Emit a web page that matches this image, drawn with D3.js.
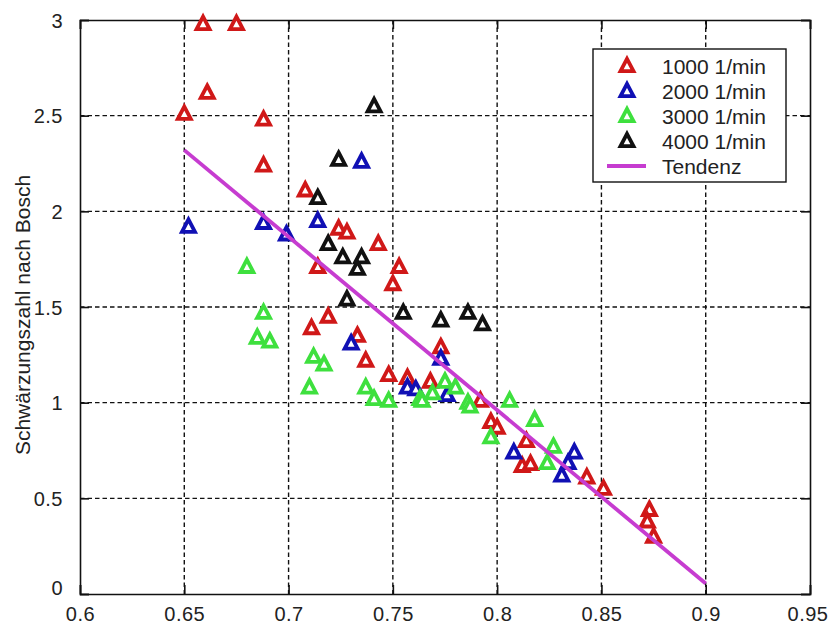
<!DOCTYPE html>
<html>
<head>
<meta charset="utf-8">
<script src="https://cdn.jsdelivr.net/npm/d3@7"></script>
<style>
  body { margin: 0; background: #fff; }
  text { font-family: "Liberation Sans", Arial, sans-serif; fill: #222; }
</style>
</head>
<body>
<div id="chart"></div>
<script>
const width = 829;
const height = 631;
const margin = { top: 20, right: 19, bottom: 37, left: 80 };

// Measured points per speed (x, Schwärzungszahl)
const rpm1000 = [
  [0.650, 2.51], [0.659, 2.98], [0.675, 2.98], [0.661, 2.62], [0.688, 2.48],
  [0.688, 2.24], [0.708, 2.11], [0.724, 1.91], [0.728, 1.89], [0.743, 1.83],
  [0.714, 1.71], [0.753, 1.71], [0.750, 1.62], [0.719, 1.45], [0.711, 1.39],
  [0.733, 1.35], [0.737, 1.22], [0.748, 1.145], [0.757, 1.13], [0.773, 1.29],
  [0.768, 1.11], [0.792, 1.01], [0.797, 0.90], [0.800, 0.87], [0.814, 0.80],
  [0.812, 0.67], [0.816, 0.68], [0.843, 0.61], [0.851, 0.55], [0.873, 0.44],
  [0.872, 0.38], [0.875, 0.30]
];
const rpm2000 = [
  [0.652, 1.92], [0.688, 1.94], [0.699, 1.88], [0.714, 1.95], [0.735, 2.26],
  [0.730, 1.31], [0.757, 1.08], [0.761, 1.07], [0.773, 1.23], [0.776, 1.04],
  [0.808, 0.74], [0.837, 0.74], [0.834, 0.685], [0.831, 0.62]
];
const rpm3000 = [
  [0.680, 1.71], [0.688, 1.47], [0.685, 1.34], [0.691, 1.32], [0.712, 1.24],
  [0.717, 1.20], [0.710, 1.08], [0.737, 1.08], [0.741, 1.02], [0.748, 1.01],
  [0.763, 1.02], [0.764, 1.01], [0.769, 1.05], [0.775, 1.11], [0.780, 1.08],
  [0.786, 1.00], [0.787, 0.98], [0.806, 1.01], [0.818, 0.91], [0.797, 0.82],
  [0.827, 0.77], [0.824, 0.685]
];
const rpm4000 = [
  [0.741, 2.55], [0.724, 2.27], [0.714, 2.07], [0.719, 1.83], [0.726, 1.76],
  [0.735, 1.76], [0.733, 1.70], [0.728, 1.54], [0.755, 1.47], [0.773, 1.43],
  [0.786, 1.47], [0.793, 1.41]
];
const trendX = [0.65, 0.9];
const trendY = [2.32, 0.055];

const xTicks = [0.6, 0.65, 0.7, 0.75, 0.8, 0.85, 0.9, 0.95];
const yTicks = [0, 0.5, 1, 1.5, 2, 2.5, 3];

const series = [
  { name: '1000 1/min', color: '#d01818', data: rpm1000 },
  { name: '2000 1/min', color: '#1010b4', data: rpm2000 },
  { name: '3000 1/min', color: '#3ee03e', data: rpm3000 },
  { name: '4000 1/min', color: '#111111', data: rpm4000 }
];
const trendColor = '#c63cd0';

const svg = d3.select('#chart')
  .append('svg')
  .attr('width', width)
  .attr('height', height);

const x = d3.scaleLinear().domain([0.6, 0.95]).range([margin.left, width - margin.right]);
const y = d3.scaleLinear().domain([0, 3]).range([height - margin.bottom, margin.top]);

const plotL = x(0.6), plotR = x(0.95), plotT = y(3), plotB = y(0);

// Dashed grid
svg.append('g')
  .selectAll('line')
  .data(xTicks.slice(1, -1))
  .enter().append('line')
  .attr('x1', d => x(d)).attr('x2', d => x(d))
  .attr('y1', plotT).attr('y2', plotB)
  .attr('stroke', '#111').attr('stroke-width', 1.4)
  .attr('stroke-dasharray', '4.5,3');

svg.append('g')
  .selectAll('line')
  .data(yTicks.slice(1, -1))
  .enter().append('line')
  .attr('x1', plotL).attr('x2', plotR)
  .attr('y1', d => y(d)).attr('y2', d => y(d))
  .attr('stroke', '#111').attr('stroke-width', 1.4)
  .attr('stroke-dasharray', '4.5,3');

// Axes with inward ticks
const xAxis = svg.append('g')
  .attr('transform', `translate(0,${plotB})`)
  .call(d3.axisBottom(x).tickValues(xTicks).tickSize(-9).tickPadding(20).tickFormat(d3.format('')));
const xAxisTop = svg.append('g')
  .attr('transform', `translate(0,${plotT})`)
  .call(d3.axisTop(x).tickValues(xTicks).tickSize(-9).tickFormat(''));
const yAxis = svg.append('g')
  .attr('transform', `translate(${plotL},0)`)
  .call(d3.axisLeft(y).tickValues(yTicks).tickSize(-9).tickPadding(17).tickFormat(d3.format('')));
const yAxisRight = svg.append('g')
  .attr('transform', `translate(${plotR},0)`)
  .call(d3.axisRight(y).tickValues(yTicks).tickSize(-9).tickFormat(''));

[xAxis, xAxisTop, yAxis, yAxisRight].forEach(g => {
  g.select('.domain').attr('stroke', '#111').attr('stroke-width', 1.6);
  g.selectAll('.tick line').attr('stroke', '#111').attr('stroke-width', 1.6);
  g.selectAll('.tick text')
    .style('font-family', '"Liberation Sans", Arial, sans-serif')
    .style('font-size', '20px')
    .style('letter-spacing', '0.5px')
    .attr('fill', '#333');
});
xAxis.selectAll('.tick text').attr('dy', '0.35em');
// keep the last label inside the page
xAxis.selectAll('.tick').filter(d => d === 0.95).select('text')
  .attr('text-anchor', 'end').attr('x', width - 1 - plotR);
yAxis.selectAll('.tick text').attr('dy', '0.35em');
yAxis.selectAll('.tick').filter(d => d === 0).select('text').attr('dy', '0.0em');

// Y axis label
svg.append('text')
  .attr('transform', `translate(30,${(plotT + plotB) / 2 + 8}) rotate(-90)`)
  .attr('text-anchor', 'middle')
  .style('font-size', '21px')
  .attr('fill', '#333')
  .text('Schwärzungszahl nach Bosch');

// Triangle marker
const tri = 'M0,-7.2L6.5,5.2L-6.5,5.2Z';

const plot = svg.append('g');
series.forEach(s => {
  plot.append('g')
    .selectAll('path')
    .data(s.data)
    .enter().append('path')
    .attr('d', tri)
    .attr('transform', d => `translate(${x(d[0])},${y(d[1])})`)
    .attr('fill', '#fff')
    .attr('stroke', s.color)
    .attr('stroke-width', 3.8)
    .attr('stroke-linejoin', 'miter');
});

// Trend line
const line = d3.line().x(d => x(d[0])).y(d => y(d[1]));
svg.append('path')
  .datum(trendX.map((v, i) => [v, trendY[i]]))
  .attr('d', line)
  .attr('fill', 'none')
  .attr('stroke', trendColor)
  .attr('stroke-width', 3.8);

// Legend
const legend = svg.append('g').attr('transform', 'translate(593,49)');
legend.append('rect')
  .attr('width', 193).attr('height', 133)
  .attr('fill', '#fff').attr('stroke', '#111').attr('stroke-width', 1.4);

series.forEach((s, i) => {
  const row = legend.append('g').attr('transform', `translate(0,${17 + i * 25})`);
  row.append('path')
    .attr('d', tri)
    .attr('transform', 'translate(34,0)')
    .attr('fill', '#fff')
    .attr('stroke', s.color)
    .attr('stroke-width', 3.8);
  row.append('text')
    .attr('x', 69).attr('dy', '0.36em')
    .style('font-size', '21px')
    .attr('fill', '#222')
    .text(s.name);
});
const trendRow = legend.append('g').attr('transform', `translate(0,${17 + 4 * 25})`);
trendRow.append('line')
  .attr('x1', 14).attr('x2', 53)
  .attr('stroke', trendColor).attr('stroke-width', 3.8);
trendRow.append('text')
  .attr('x', 69).attr('dy', '0.36em')
  .style('font-size', '21px')
  .attr('fill', '#222')
  .text('Tendenz');
</script>
</body>
</html>
